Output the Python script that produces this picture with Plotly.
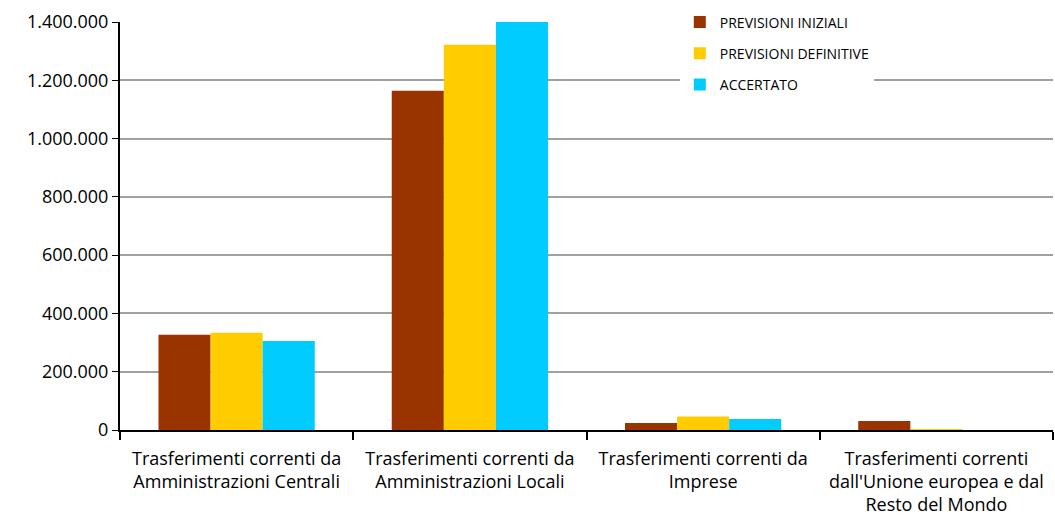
import plotly.graph_objects as go

categories = [
    "Trasferimenti correnti da<br>Amministrazioni Centrali",
    "Trasferimenti correnti da<br>Amministrazioni Locali",
    "Trasferimenti correnti da<br>Imprese",
    "Trasferimenti correnti<br>dall'Unione europea e dal<br>Resto del Mondo",
]
previsioni_iniziali = [327000, 1164000, 24000, 31000]
previsioni_definitive = [334000, 1322000, 46000, 1000]
accertato = [305000, 1400000, 38000, 0]

series = [
    ("PREVISIONI INIZIALI", previsioni_iniziali, "#993300"),
    ("PREVISIONI DEFINITIVE", previsioni_definitive, "#FFCC00"),
    ("ACCERTATO", accertato, "#00CCFF"),
]

fig = go.Figure()
for i, (name, vals, col) in enumerate(series):
    fig.add_trace(go.Bar(x=categories, y=vals, name=name, marker_color=col,
                         marker_line_width=0, legendgroup=str(i)))

font = "Open Sans"
fig.update_layout(
    width=1055, height=519,
    margin=dict(l=120, r=2, t=22, b=89),
    plot_bgcolor="white", paper_bgcolor="white",
    barmode="group", bargap=0.33, bargroupgap=0,
    separators=",.",
    font=dict(family=font, size=17, color="#000000"),
    showlegend=True,
    legend=dict(x=0.6, y=1.038, xanchor="left", yanchor="top",
                bgcolor="white", font=dict(size=14, family=font),
                traceorder="grouped", tracegroupgap=10,
                itemwidth=30),
)
fig.update_xaxes(showline=True, linecolor="black", linewidth=2,
                 ticks="outside", tickson="boundaries", ticklen=8,
                 tickcolor="black", tickwidth=1.5,
                 ticklabelstandoff=11,
                 tickfont=dict(size=18, family=font))
fig.update_yaxes(range=[0, 1400000], dtick=200000, tickformat=",.0f",
                 showgrid=True, gridcolor="#A0A0A0", gridwidth=1.5,
                 showline=True, linecolor="black", linewidth=2,
                 ticks="outside", ticklen=6, tickcolor="black",
                 tickfont=dict(size=18, family=font), zeroline=False)
fig.write_html("out.html")
